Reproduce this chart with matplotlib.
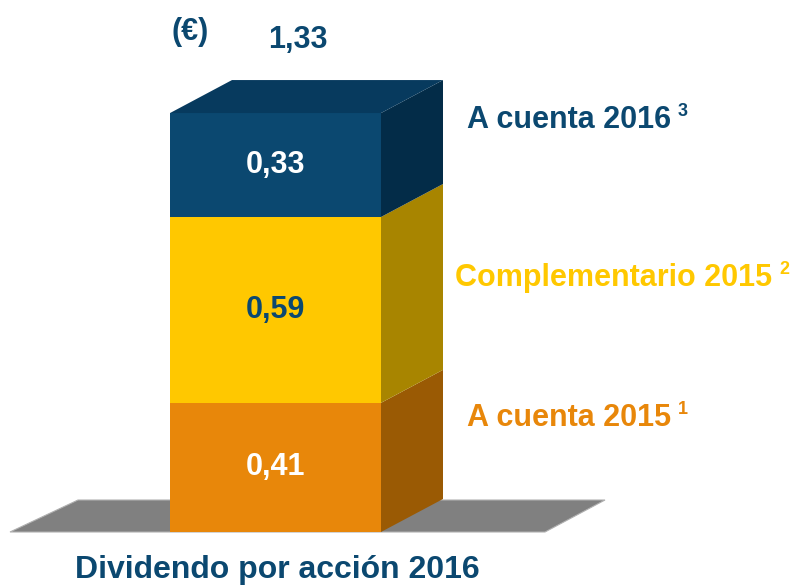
import matplotlib
matplotlib.use("Agg")
import matplotlib.pyplot as plt
from matplotlib.patches import Polygon

# data
segments = ["A cuenta 2015", "Complementario 2015", "A cuenta 2016"]
sup = ["1", "2", "3"]
values = [0.41, 0.59, 0.33]
value_labels = ["0,41", "0,59", "0,33"]
total_label = "1,33"
title = "Dividendo por acción 2016"

front_cols = ["#e8870a", "#ffc800", "#0b4870"]
side_cols = ["#9a5a04", "#a88500", "#032c48"]
top_col = "#073a5e"
label_cols = ["#e8870a", "#ffc800", "#0b4870"]
val_text_cols = ["white", "#0b4870", "white"]
navy = "#0b4870"

plt.rcParams['font.family'] = ['Liberation Sans', 'DejaVu Sans']

fig = plt.figure(figsize=(8.11, 5.87), dpi=100)
ax = fig.add_axes([0, 0, 1, 1])
scale = 315.0   # pixels per euro
base_px = 532
ax.set_xlim(0, 811)
ax.set_ylim((base_px - 587) / scale, base_px / scale)
ax.axis("off")

x0, x1 = 170, 381
ddx, ddy = 62, 33 / scale

# floor
floor = Polygon([(10, 0), (545, 0), (605, 32 / scale), (78, 32 / scale)],
                closed=True, facecolor="#808080", edgecolor="#b0b0b0", lw=0.8)
ax.add_patch(floor)

bottom = 0.0
for i, v in enumerate(values):
    top = bottom + v
    ax.add_patch(Polygon([(x0, bottom), (x1, bottom), (x1, top), (x0, top)],
                         closed=True, facecolor=front_cols[i], lw=0))
    ax.add_patch(Polygon([(x1, bottom), (x1 + ddx, bottom + ddy),
                          (x1 + ddx, top + ddy), (x1, top)],
                         closed=True, facecolor=side_cols[i], lw=0))
    ax.text((x0 + x1) / 2, bottom + v / 2, value_labels[i], ha="center",
            va="center", fontsize=22, fontweight="bold", color=val_text_cols[i])
    bottom = top

# top face
ax.add_patch(Polygon([(x0, bottom), (x1, bottom), (x1 + ddx, bottom + ddy),
                      (x0 + ddx, bottom + ddy)],
                     closed=True, facecolor=top_col, lw=0))

# side labels with bold superscripts
label_pos = [(467, (base_px - 418) / scale), (455, (base_px - 278) / scale),
             (467, (base_px - 120) / scale)]
fig.canvas.draw()
rend = fig.canvas.get_renderer()
for i, name in enumerate(segments):
    lx, ly = label_pos[i]
    t = ax.text(lx, ly, name, ha="left", va="center",
                fontsize=22, fontweight="bold", color=label_cols[i])
    bb = t.get_window_extent(renderer=rend)
    ax.annotate(sup[i], xy=(lx, ly), xycoords="data",
                xytext=(bb.x1 - ax.transData.transform((lx, ly))[0] + 7, 9),
                textcoords="offset pixels", ha="left", va="center",
                fontsize=13, fontweight="bold", color=label_cols[i])

ax.text(298, (base_px - 40) / scale, total_label, ha="center", va="center",
        fontsize=22, fontweight="bold", color=navy)
ax.text(190, (base_px - 32) / scale, "(€)", ha="center", va="center",
        fontsize=22, fontweight="bold", color=navy)
ax.text(277, (base_px - 570) / scale, title, ha="center", va="center",
        fontsize=23, fontweight="bold", color=navy)

fig.savefig("out.png", dpi=100)
